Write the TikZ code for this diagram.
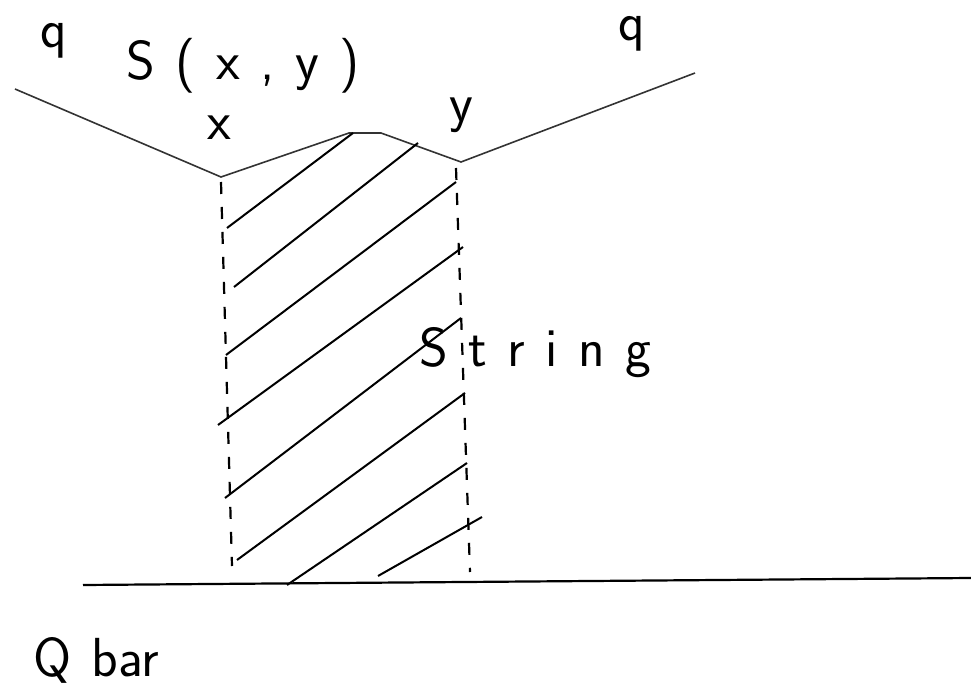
\documentclass[tikz,border=0pt]{standalone}
\newcommand\lblfont{\sffamily\fontsize{55}{64}\selectfont\spaceskip 20.5pt\relax}
\begin{document}
\begin{tikzpicture}[x=1pt,y=-1pt,
  lbl/.style={anchor=base west,inner sep=0pt,font=\lblfont},
  wire/.style={draw=black!80,line width=1.6pt},
  guide/.style={draw=black,line width=2.2pt,dash pattern=on 12pt off 13pt},
  hatch/.style={draw=black,line width=2pt}]
\useasboundingbox (0,0) rectangle (971,687);
% top string ends
\coordinate (qL) at (15,89);
\coordinate (X) at (221,177);
\coordinate (T1) at (349,133);
\coordinate (T2) at (381,133);
\coordinate (Y) at (461,162);
\coordinate (qR) at (695,73);
\draw[wire] (qL) -- (X) -- (T1) -- (T2) -- (Y) -- (qR);
% dashed guides
\coordinate (Xt) at (221,182);
\coordinate (Xb) at (232,566);
\coordinate (Yt) at (456,168);
\coordinate (Yb) at (470,572);
\draw[guide] (Xt) -- (Xb);
\draw[guide] (Yt) -- (Yb);
% bottom line
\coordinate (B1) at (83,585);
\coordinate (B2) at (971,578);
\draw[black,line width=2.2pt] (B1) -- (B2);
% hatching
\coordinate (h1a) at (227,228); \coordinate (h1b) at (353,133);
\coordinate (h2a) at (234,287); \coordinate (h2b) at (418,143);
\coordinate (h3a) at (226,355); \coordinate (h3b) at (456,182);
\coordinate (h4a) at (218,425); \coordinate (h4b) at (463,247);
\coordinate (h5a) at (225,498); \coordinate (h5b) at (461,318);
\coordinate (h6a) at (237,560); \coordinate (h6b) at (465,393);
\coordinate (h7a) at (287,585); \coordinate (h7b) at (467,463);
\coordinate (h8a) at (378,576); \coordinate (h8b) at (482,517);
\foreach \i in {1,...,8} \draw[hatch] (h\i a) -- (h\i b);
% labels
\node[lbl] (q1) at (40,48) {q};
\node[lbl] (sxy) at (126,80) {S ( x , y )};
\node[lbl] (xl) at (207,140) {x};
\node[lbl] (yl) at (449,122) {y};
\node[lbl] (q2) at (618,41) {q};
\node[lbl] (str) at (419,366) {S t r i n g};
\node[lbl] (qbar) at (33,676) {Q bar};
\end{tikzpicture}
\end{document}
